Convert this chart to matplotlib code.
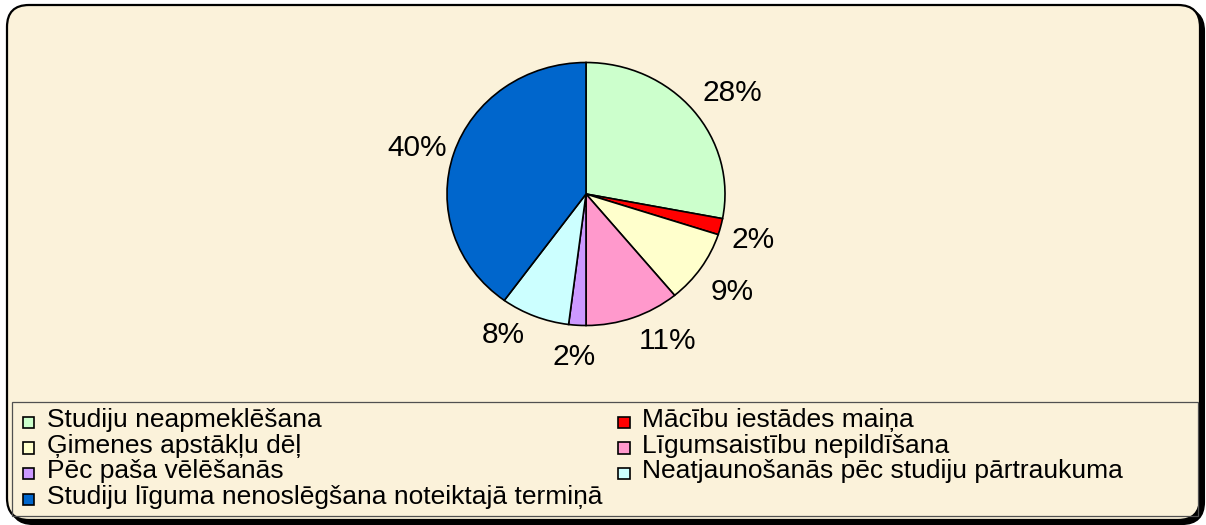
import matplotlib
matplotlib.use("Agg")
import matplotlib.pyplot as plt
from matplotlib.patches import FancyBboxPatch, Rectangle, Wedge
from matplotlib.legend_handler import HandlerPatch
from matplotlib.transforms import IdentityTransform, offset_copy
import numpy as np

plt.rcParams['font.family'] = ['Liberation Sans', 'DejaVu Sans']

# ---- data ----
categories = [
    "Studiju neapmeklēšana",
    "Mācību iestādes maiņa",
    "Ģimenes apstākļu dēļ",
    "Līgumsaistību nepildīšana",
    "Pēc paša vēlēšanās",
    "Neatjaunošanās pēc studiju pārtraukuma",
    "Studiju līguma nenoslēgšana noteiktajā termiņā",
]
shares = [28, 2, 9, 11, 2, 8, 40]
colors = ["#CCFFCC", "#FF0000", "#FFFFCC", "#FF99CC", "#CC99FF", "#CCFFFF", "#0066CC"]

# small pixel nudges of the percentage labels (styling only)
label_nudge = [(3, -3), (-5, 4), (0, 6), (19, -5), (-1, 2), (-17, -9), (8, 0)]

W, H = 1206, 525
fig = plt.figure(figsize=(W / 100, H / 100), dpi=100, facecolor="white")

bg = "#FBF2DA"
shadow = FancyBboxPatch((7 + 4, H - 520 - 4), 1193, 515,
                        boxstyle="round,pad=0,rounding_size=22",
                        transform=IdentityTransform(), facecolor="black",
                        edgecolor="black", linewidth=1.5, zorder=-3)
frame = FancyBboxPatch((7, H - 520), 1193, 515,
                       boxstyle="round,pad=0,rounding_size=22",
                       transform=IdentityTransform(), facecolor=bg,
                       edgecolor="black", linewidth=1.6, zorder=-2)
legbox = Rectangle((12, H - 516), 1186, 114, transform=IdentityTransform(),
                   facecolor="none", edgecolor="#505050", linewidth=0.9, zorder=-1)
fig.patches.extend([shadow, frame, legbox])

# pie axes: centre ~ (586,194), rx 139, ry 131.5
cx, cy, rx, ry = 586, 194, 139, 131.5
ax = fig.add_axes([(cx - rx) / W, (H - cy - ry) / H, 2 * rx / W, 2 * ry / H])
ax.set_facecolor("none")
pct_fs = 21.5
wedges, texts, autotexts = ax.pie(
    shares, colors=colors, startangle=90, counterclock=False,
    autopct='%1.0f%%', pctdistance=1.2,
    wedgeprops=dict(edgecolor="black", linewidth=1.2),
    textprops=dict(fontsize=pct_fs, color="black"),
)
ax.set_xlim(-1, 1)
ax.set_ylim(-1, 1)
ax.set_aspect('auto')
ax.axis('off')

fig.canvas.draw()
r0 = 1.12
fs_px = pct_fs * 100 / 72
for wdg, t, (nx, ny) in zip(wedges, autotexts, label_nudge):
    th = np.deg2rad((wdg.theta1 + wdg.theta2) / 2)
    w = t.get_window_extent().width
    h = 0.72 * fs_px
    t.set_position((r0 * np.cos(th), r0 * np.sin(th)))
    t.set_transform(offset_copy(ax.transData, fig=fig,
                                x=w / 2 * np.cos(th) + nx,
                                y=h / 2 * np.sin(th) - ny,
                                units='dots'))
    t.set_ha('center')
    t.set_va('center_baseline')
    t.set_clip_on(False)


def square(legend, orig_handle, xdescent, ydescent, width, height, fontsize):
    s = 0.43 * fontsize
    return Rectangle((-0.3, -0.8), s, s)


order = [0, 2, 4, 6, 1, 3, 5]
leg = fig.legend([wedges[i] for i in order], [categories[i] for i in order],
                 ncol=2, loc='upper left',
                 bbox_to_anchor=(23 / W, (H - 408) / H),
                 bbox_transform=fig.transFigure,
                 frameon=False, borderpad=0, borderaxespad=0,
                 handlelength=0.4, handletextpad=0.5,
                 columnspacing=0.62, labelspacing=0.06, fontsize=19,
                 handler_map={Wedge: HandlerPatch(patch_func=square)})

fig.savefig("out.png", dpi=100, facecolor="white")
